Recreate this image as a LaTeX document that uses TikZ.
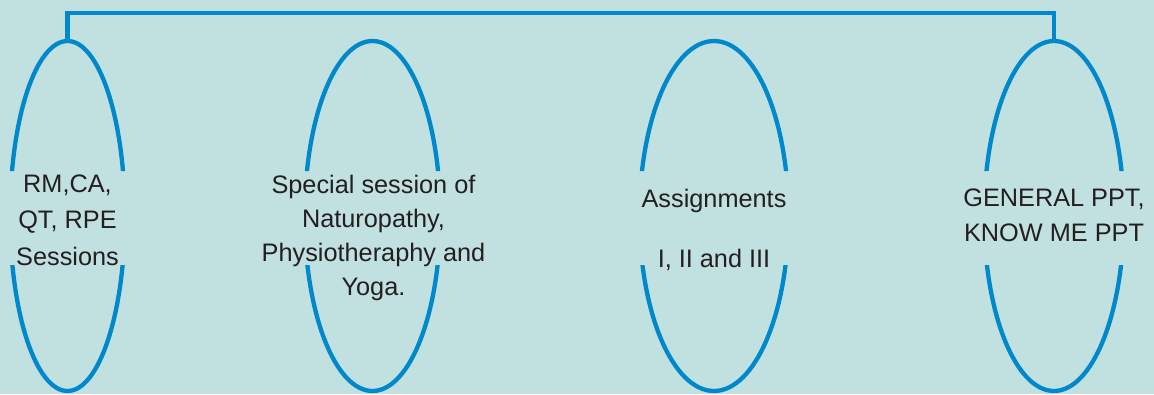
\documentclass[tikz,border=0pt]{standalone}
\usepackage{fontspec}
\setmainfont{Liberation Sans}
\usetikzlibrary{shapes.geometric}
\definecolor{bgc}{RGB}{193,224,224}
\definecolor{linec}{RGB}{0,136,204}
\definecolor{txtc}{RGB}{35,31,32}
\tikzset{
  oval/.style={ellipse, draw=linec, line width=4.3pt, inner sep=0pt, minimum height=350pt},
  conn/.style={draw=linec, line width=4.3pt},
  lbl/.style={text=txtc, align=center, inner sep=0pt, anchor=north, font=\fontsize{25.3}{34}\selectfont}
}
\begin{document}
\begin{tikzpicture}[x=1pt,y=-1pt]
\useasboundingbox (0,0) rectangle (1154,394);
\fill[bgc] (0,0) rectangle (1154,394);
\begin{scope}
  \clip (0,0) rectangle (1154,171) (0,265) rectangle (1154,394);
  \node[oval, minimum width=114.8pt] (e1) at (67.5,216) {};
  \node[oval, minimum width=135.6pt] (e2) at (372.5,216) {};
  \node[oval, minimum width=149pt] (e3) at (714,216) {};
  \node[oval, minimum width=139.7pt] (e4) at (1054,216) {};
\end{scope}
\coordinate (top) at (0,13);
\draw[conn] (e1.north) -- (e1.north |- top) -| (e4.north);
\node[lbl] (t1) at (67.5,174.5) {RM,CA,\\[2.5pt] QT, RPE\\[2.5pt] Sessions};
\node[lbl] (t2) at (373.5,174.5) {Special session of\\ Naturopathy,\\ Physiotheraphy and\\ Yoga.};
\node[lbl] (t3) at (714,188.5) {Assignments\\[26pt] I, II and III};
\node[lbl] (t4) at (1054,188.5) {GENERAL PPT,\\[1pt] KNOW ME PPT};
\end{tikzpicture}
\end{document}
